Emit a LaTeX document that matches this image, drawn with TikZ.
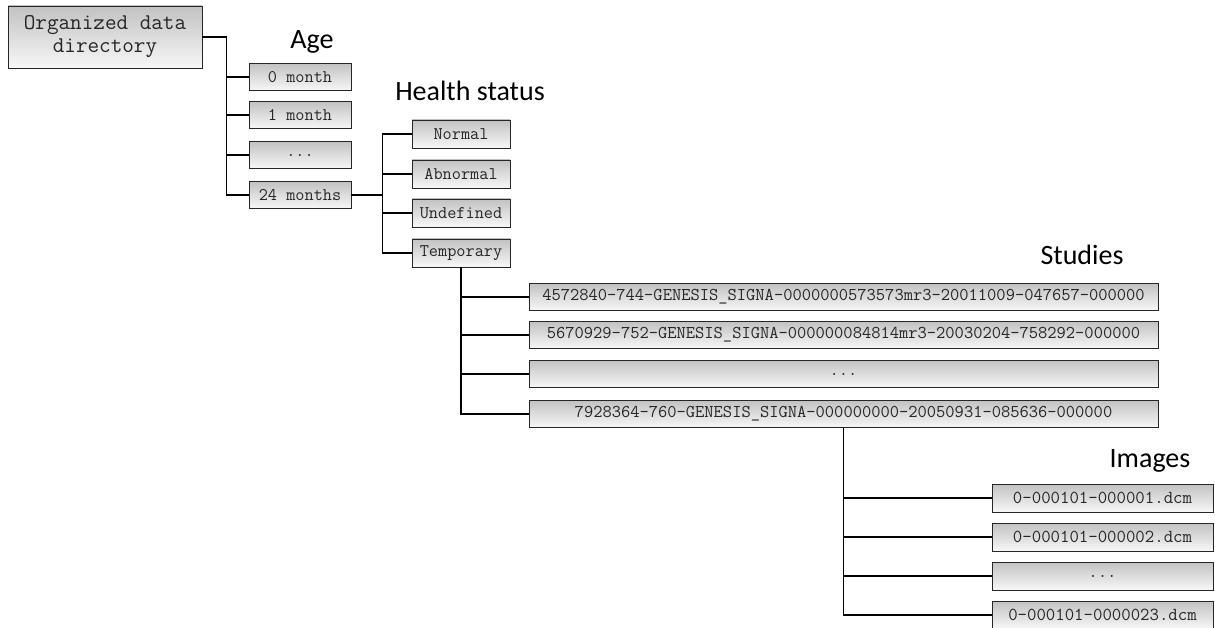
\documentclass[tikz,border=0pt]{standalone}
\usepackage{fontspec}
\newfontfamily\headfont{Carlito}
\usepackage{tikz}
\usetikzlibrary{positioning}

\begin{document}
\begin{tikzpicture}[x=1pt, y=-1pt,
            folder/.style={draw=black!85, line width=0.8pt, top color=black!24, bottom color=black!3,
                           text=black!85, inner sep=0pt, align=center, font=\ttfamily\fontsize{17.8}{20}\selectfont},
            age box/.style={folder, minimum width=102pt, minimum height=27pt},
            health box/.style={folder, minimum width=98pt, minimum height=28pt},
            study box/.style={folder, minimum width=629pt, minimum height=27pt, font=\ttfamily\fontsize{18}{20}\selectfont},
            image box/.style={folder, minimum width=221pt, minimum height=28pt, font=\ttfamily\fontsize{18.3}{20}\selectfont},
            level/.style={font=\headfont\fontsize{28}{30}\selectfont, anchor=base, inner sep=0pt},
            link/.style={line width=1.2pt, black}]

            \useasboundingbox (0,0) rectangle (1215,628);

            % Root folder
            \node[folder, minimum width=194pt, minimum height=62pt,
                  font=\ttfamily\fontsize{22.5}{23}\selectfont] (root) at (105,37) {Organized data\\directory};

            % Age level
            \node[level] (age label) at (312,49) {Age};
            \node[age box] (age1) at (300,77) {0 month};
            \node[age box] (age2) at (300,115) {1 month};
            \node[age box] (age3) at (300,155) {...};
            \node[age box] (age4) at (300,195) {24 months};

            % Health status level
            \node[level] (health label) at (470,101) {Health status};
            \node[health box] (hs1) at (461,134) {Normal};
            \node[health box] (hs2) at (461,174) {Abnormal};
            \node[health box] (hs3) at (461,213) {Undefined};
            \node[health box] (hs4) at (461,253) {Temporary};

            % Studies level
            \node[level] (study label) at (1082,265) {Studies};
            \node[study box] (st1) at (843.5,297) {4572840-744-GENESIS\_SIGNA-0000000573573mr3-20011009-047657-000000};
            \node[study box] (st2) at (843.5,335) {5670929-752-GENESIS\_SIGNA-000000084814mr3-20030204-758292-000000};
            \node[study box] (st3) at (843.5,374) {...};
            \node[study box] (st4) at (843.5,414) {7928364-760-GENESIS\_SIGNA-000000000-20050931-085636-000000};

            % Images level
            \node[level] (image label) at (1150,467) {Images};
            \node[image box] (im1) at (1102.5,498) {0-000101-000001.dcm};
            \node[image box] (im2) at (1102.5,537) {0-000101-000002.dcm};
            \node[image box] (im3) at (1102.5,576) {...};
            \node[image box] (im4) at (1102.5,615) {0-000101-0000023.dcm};

            % Tree connectors
            \draw[link] (root.east) -- ++(24,0) coordinate (age bus) |- (age4.west);
            \foreach \i in {1,2,3} {
                \draw[link] (age bus |- age\i.west) -- (age\i.west);
            }

            \draw[link] (age4.east) -- ++(31,0) coordinate (health bus);
            \draw[link] (hs1.west) -- (health bus |- hs1.west) -- (health bus |- hs4.west) -- (hs4.west);
            \foreach \i in {2,3} {
                \draw[link] (health bus |- hs\i.west) -- (hs\i.west);
            }

            \draw[link] (hs4.south) |- (st4.west);
            \foreach \i in {1,2,3} {
                \draw[link] (hs4.south |- st\i.west) -- (st\i.west);
            }

            \draw[link] (st4.south) |- (im4.west);
            \foreach \i in {1,2,3} {
                \draw[link] (st4.south |- im\i.west) -- (im\i.west);
            }
        \end{tikzpicture}
\end{document}
